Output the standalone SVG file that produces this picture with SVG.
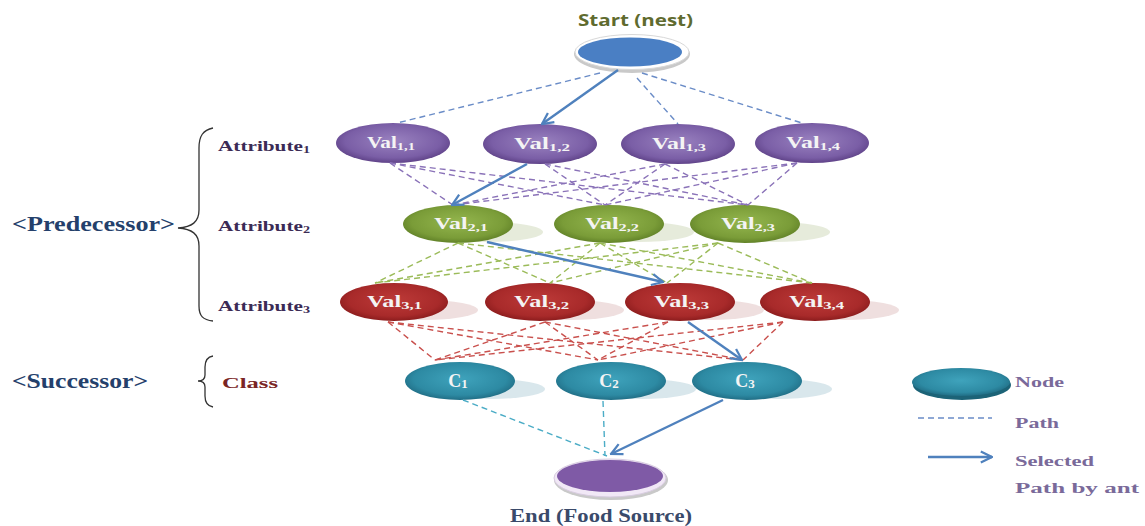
<svg xmlns="http://www.w3.org/2000/svg" width="1145" height="526" viewBox="0 0 1145 526">
<style>
.lbl{font-family:"Liberation Serif",serif;font-weight:bold;}
.nv{font-family:"Liberation Serif",serif;font-weight:bold;font-size:16px;fill:#f4f4f4;}
.cv{font-family:"Liberation Serif",serif;font-weight:bold;font-size:18px;fill:#f4f4f4;}
.sub{font-size:11px;}
.csub{font-size:13px;}
.pd{stroke:#8a72b8;stroke-width:1.4;stroke-dasharray:6 4;fill:none;}
.gd{stroke:#9bbb59;stroke-width:1.4;stroke-dasharray:6 4;fill:none;}
.rd{stroke:#c9504d;stroke-width:1.4;stroke-dasharray:6 4;fill:none;}
.bd{stroke:#6a8cc7;stroke-width:1.4;stroke-dasharray:6 4;fill:none;}
.td{stroke:#4bacc6;stroke-width:1.4;stroke-dasharray:6 4;fill:none;}
.sel{stroke:#4f81bd;stroke-width:2.4;fill:none;marker-end:url(#ah);}
.brace{stroke:#333;stroke-width:1.3;fill:none;}
.leg{font-family:"Liberation Serif",serif;font-weight:bold;font-size:15px;fill:#7a6a9a;}
</style>
<defs>
<radialGradient id="gP" cx="0.5" cy="0.45" r="0.6"><stop offset="0" stop-color="#9a82c0"/><stop offset="0.7" stop-color="#7a5ea6"/><stop offset="1" stop-color="#56397e"/></radialGradient>
<radialGradient id="gG" cx="0.5" cy="0.45" r="0.6"><stop offset="0" stop-color="#94b64e"/><stop offset="0.7" stop-color="#7a9c38"/><stop offset="1" stop-color="#587822"/></radialGradient>
<radialGradient id="gR" cx="0.5" cy="0.45" r="0.6"><stop offset="0" stop-color="#bd3a38"/><stop offset="0.7" stop-color="#a82a2a"/><stop offset="1" stop-color="#801718"/></radialGradient>
<radialGradient id="gT" cx="0.5" cy="0.45" r="0.6"><stop offset="0" stop-color="#3fa3bc"/><stop offset="0.7" stop-color="#2d8aa3"/><stop offset="1" stop-color="#1c637a"/></radialGradient>
<marker id="ah" viewBox="0 0 10 10" refX="9" refY="5" markerWidth="14" markerHeight="14" markerUnits="userSpaceOnUse" orient="auto"><path d="M1,1 L9,5 L1,9" fill="none" stroke="#4f81bd" stroke-width="1.6"/></marker>
</defs>
<rect width="1145" height="526" fill="#ffffff"/>

<g id="labels">
<text class="lbl" x="12" y="231" font-size="20" fill="#24406b" textLength="163" lengthAdjust="spacingAndGlyphs">&lt;Predecessor&gt;</text>
<text class="lbl" x="12" y="388" font-size="20" fill="#24406b" textLength="136" lengthAdjust="spacingAndGlyphs">&lt;Successor&gt;</text>
<text class="lbl" x="218" y="151" font-size="15" fill="#3b2b55" textLength="92" lengthAdjust="spacingAndGlyphs">Attribute<tspan font-size="10" dy="2">1</tspan></text>
<text class="lbl" x="218" y="231" font-size="15" fill="#3b2b55" textLength="92" lengthAdjust="spacingAndGlyphs">Attribute<tspan font-size="10" dy="2">2</tspan></text>
<text class="lbl" x="218" y="311" font-size="15" fill="#3b2b55" textLength="92" lengthAdjust="spacingAndGlyphs">Attribute<tspan font-size="10" dy="2">3</tspan></text>
<text class="lbl" x="222" y="388" font-size="15" fill="#7a2525" textLength="56" lengthAdjust="spacingAndGlyphs">Class</text>
<path class="brace" d="M213,128 C203,130 199,136 199,148 L199,210 C199,222 192,227 178,228 C192,229 199,234 199,246 L199,306 C199,316 203,320 213,321"/>
<path class="brace" d="M213,356 C207,357 205,361 205,367 L205,375 C205,379 202,381 198,381 C202,381 205,383 205,387 L205,396 C205,402 207,406 213,407"/>
<text x="578" y="26" font-family="Open Sans, 'Liberation Sans', sans-serif" font-weight="bold" font-size="16" fill="#5f6b2f" textLength="115" lengthAdjust="spacingAndGlyphs">Start (nest)</text>
<text class="lbl" x="510" y="522" font-size="18" fill="#3a4a6a" textLength="182" lengthAdjust="spacingAndGlyphs">End (Food Source)</text>
</g>

<g id="start">
<ellipse cx="632" cy="54" rx="58" ry="19" fill="#c9c9c9"/>
<ellipse cx="632" cy="52" rx="57" ry="17.5" fill="#ffffff" stroke="#d8d8d8" stroke-width="1"/>
<ellipse cx="630" cy="52" rx="52" ry="14.5" fill="#4a7fc4"/>
</g>

<g id="row1">
<g id="val11"><ellipse cx="393" cy="143" rx="57" ry="20" fill="url(#gP)"/><text class="nv" x="367" y="148" textLength="48" lengthAdjust="spacingAndGlyphs">Val<tspan class="sub" dy="2">1,1</tspan></text></g>
<g id="val12"><ellipse cx="540" cy="144" rx="57" ry="20" fill="url(#gP)"/><text class="nv" x="514" y="149" textLength="56" lengthAdjust="spacingAndGlyphs">Val<tspan class="sub" dy="2">1,2</tspan></text></g>
<g id="val13"><ellipse cx="678" cy="144" rx="57" ry="20" fill="url(#gP)"/><text class="nv" x="652" y="149" textLength="54" lengthAdjust="spacingAndGlyphs">Val<tspan class="sub" dy="2">1,3</tspan></text></g>
<g id="val14"><ellipse cx="812" cy="143" rx="57" ry="20" fill="url(#gP)"/><text class="nv" x="786" y="148" textLength="54" lengthAdjust="spacingAndGlyphs">Val<tspan class="sub" dy="2">1,4</tspan></text></g>
</g>

<g id="row2">
<g id="val21"><ellipse cx="488" cy="232" rx="55" ry="10" fill="#9bb070" opacity="0.25"/><ellipse cx="458" cy="224" rx="55" ry="19" fill="url(#gG)"/><text class="nv" x="434" y="229" textLength="54" lengthAdjust="spacingAndGlyphs">Val<tspan class="sub" dy="2">2,1</tspan></text></g>
<g id="val22"><ellipse cx="639" cy="232" rx="55" ry="10" fill="#9bb070" opacity="0.25"/><ellipse cx="609" cy="224" rx="55" ry="19" fill="url(#gG)"/><text class="nv" x="585" y="229" textLength="54" lengthAdjust="spacingAndGlyphs">Val<tspan class="sub" dy="2">2,2</tspan></text></g>
<g id="val23"><ellipse cx="775" cy="232" rx="55" ry="10" fill="#9bb070" opacity="0.25"/><ellipse cx="745" cy="224" rx="55" ry="19" fill="url(#gG)"/><text class="nv" x="721" y="229" textLength="54" lengthAdjust="spacingAndGlyphs">Val<tspan class="sub" dy="2">2,3</tspan></text></g>
</g>

<g id="row3">
<g id="val31"><ellipse cx="424" cy="310" rx="54" ry="10" fill="#c08080" opacity="0.25"/><ellipse cx="394" cy="302" rx="54" ry="19" fill="url(#gR)"/><text class="nv" x="367" y="307" textLength="55" lengthAdjust="spacingAndGlyphs">Val<tspan class="sub" dy="2">3,1</tspan></text></g>
<g id="val32"><ellipse cx="570" cy="310" rx="54" ry="10" fill="#c08080" opacity="0.25"/><ellipse cx="540" cy="302" rx="55" ry="19" fill="url(#gR)"/><text class="nv" x="514" y="307" textLength="55" lengthAdjust="spacingAndGlyphs">Val<tspan class="sub" dy="2">3,2</tspan></text></g>
<g id="val33"><ellipse cx="710" cy="310" rx="54" ry="10" fill="#c08080" opacity="0.25"/><ellipse cx="680" cy="302" rx="55" ry="19" fill="url(#gR)"/><text class="nv" x="654" y="307" textLength="55" lengthAdjust="spacingAndGlyphs">Val<tspan class="sub" dy="2">3,3</tspan></text></g>
<g id="val34"><ellipse cx="845" cy="310" rx="54" ry="10" fill="#c08080" opacity="0.25"/><ellipse cx="815" cy="302" rx="55" ry="19" fill="url(#gR)"/><text class="nv" x="789" y="307" textLength="55" lengthAdjust="spacingAndGlyphs">Val<tspan class="sub" dy="2">3,4</tspan></text></g>
</g>

<g id="row4">
<g id="c1"><ellipse cx="490" cy="389" rx="55" ry="10" fill="#80b0c0" opacity="0.3"/><ellipse cx="460" cy="381" rx="55" ry="19" fill="url(#gT)"/><text class="cv" x="458" y="387" text-anchor="middle">C<tspan class="csub" dy="1">1</tspan></text></g>
<g id="c2"><ellipse cx="641" cy="389" rx="55" ry="10" fill="#80b0c0" opacity="0.3"/><ellipse cx="611" cy="381" rx="55" ry="19" fill="url(#gT)"/><text class="cv" x="609" y="387" text-anchor="middle">C<tspan class="csub" dy="1">2</tspan></text></g>
<g id="c3"><ellipse cx="777" cy="389" rx="55" ry="10" fill="#80b0c0" opacity="0.3"/><ellipse cx="747" cy="381" rx="55" ry="19" fill="url(#gT)"/><text class="cv" x="745" y="387" text-anchor="middle">C<tspan class="csub" dy="1">3</tspan></text></g>
</g>

<g id="end">
<ellipse cx="611" cy="480" rx="57" ry="20" fill="#c9c9c9"/>
<ellipse cx="610" cy="478" rx="56" ry="19" fill="#f1e8f6" stroke="#d8cce0" stroke-width="1"/>
<ellipse cx="610" cy="476" rx="53" ry="16" fill="#7f5aa6"/>
</g>

<g id="legend">
<g id="leg-node"><ellipse cx="962" cy="385" rx="49" ry="15" fill="#1c6377"/><ellipse cx="961" cy="382" rx="49" ry="14" fill="url(#gT)"/><text class="leg" x="1015" y="387" textLength="49" lengthAdjust="spacingAndGlyphs">Node</text></g>
<g id="leg-path"><line x1="918" y1="418" x2="992" y2="418" class="bd"/><text class="leg" x="1015" y="428" textLength="44" lengthAdjust="spacingAndGlyphs">Path</text></g>
<g id="leg-sel"><line x1="928" y1="457" x2="992" y2="457" class="sel"/><text class="leg" x="1015" y="466" textLength="79" lengthAdjust="spacingAndGlyphs">Selected</text><text class="leg" x="1015" y="493" textLength="124" lengthAdjust="spacingAndGlyphs">Path by ant</text></g>
</g>

<g id="connectors">
<line class="bd" x1="600" y1="73" x2="397" y2="123"/>
<line class="bd" x1="637" y1="78" x2="678" y2="124"/>
<line class="bd" x1="642" y1="73" x2="802" y2="123"/>
<line class="sel" x1="618" y1="70" x2="542" y2="124"/>

<line class="pd" x1="390" y1="163" x2="453" y2="205"/>
<line class="pd" x1="390" y1="163" x2="605" y2="205"/>
<line class="pd" x1="390" y1="163" x2="748" y2="205"/>
<line class="pd" x1="545" y1="164" x2="605" y2="205"/>
<line class="pd" x1="545" y1="164" x2="748" y2="205"/>
<line class="pd" x1="665" y1="164" x2="453" y2="205"/>
<line class="pd" x1="665" y1="164" x2="605" y2="205"/>
<line class="pd" x1="665" y1="164" x2="748" y2="205"/>
<line class="pd" x1="797" y1="163" x2="453" y2="205"/>
<line class="pd" x1="797" y1="163" x2="605" y2="205"/>
<line class="pd" x1="797" y1="163" x2="748" y2="205"/>
<line class="sel" x1="527" y1="164" x2="452" y2="205"/>

<line class="gd" x1="458" y1="243" x2="375" y2="283"/>
<line class="gd" x1="458" y1="243" x2="550" y2="283"/>
<line class="gd" x1="458" y1="243" x2="812" y2="283"/>
<line class="gd" x1="600" y1="243" x2="375" y2="283"/>
<line class="gd" x1="600" y1="243" x2="550" y2="283"/>
<line class="gd" x1="600" y1="243" x2="667" y2="283"/>
<line class="gd" x1="600" y1="243" x2="812" y2="283"/>
<line class="gd" x1="718" y1="243" x2="375" y2="283"/>
<line class="gd" x1="718" y1="243" x2="550" y2="283"/>
<line class="gd" x1="718" y1="243" x2="667" y2="283"/>
<line class="gd" x1="718" y1="243" x2="812" y2="283"/>
<line class="sel" x1="487" y1="242" x2="663" y2="282"/>

<line class="rd" x1="388" y1="322" x2="435" y2="360"/>
<line class="rd" x1="388" y1="322" x2="598" y2="360"/>
<line class="rd" x1="388" y1="322" x2="743" y2="360"/>
<line class="rd" x1="545" y1="322" x2="435" y2="360"/>
<line class="rd" x1="545" y1="322" x2="598" y2="360"/>
<line class="rd" x1="545" y1="322" x2="743" y2="360"/>
<line class="rd" x1="668" y1="322" x2="435" y2="360"/>
<line class="rd" x1="668" y1="322" x2="598" y2="360"/>
<line class="rd" x1="783" y1="322" x2="435" y2="360"/>
<line class="rd" x1="783" y1="322" x2="598" y2="360"/>
<line class="rd" x1="783" y1="322" x2="743" y2="360"/>
<line class="sel" x1="688" y1="322" x2="742" y2="360"/>

<line class="td" x1="463" y1="400" x2="607" y2="456"/>
<line class="td" x1="603" y1="401" x2="605" y2="456"/>
<line class="sel" x1="723" y1="400" x2="611" y2="454"/>
</g>
</svg>
